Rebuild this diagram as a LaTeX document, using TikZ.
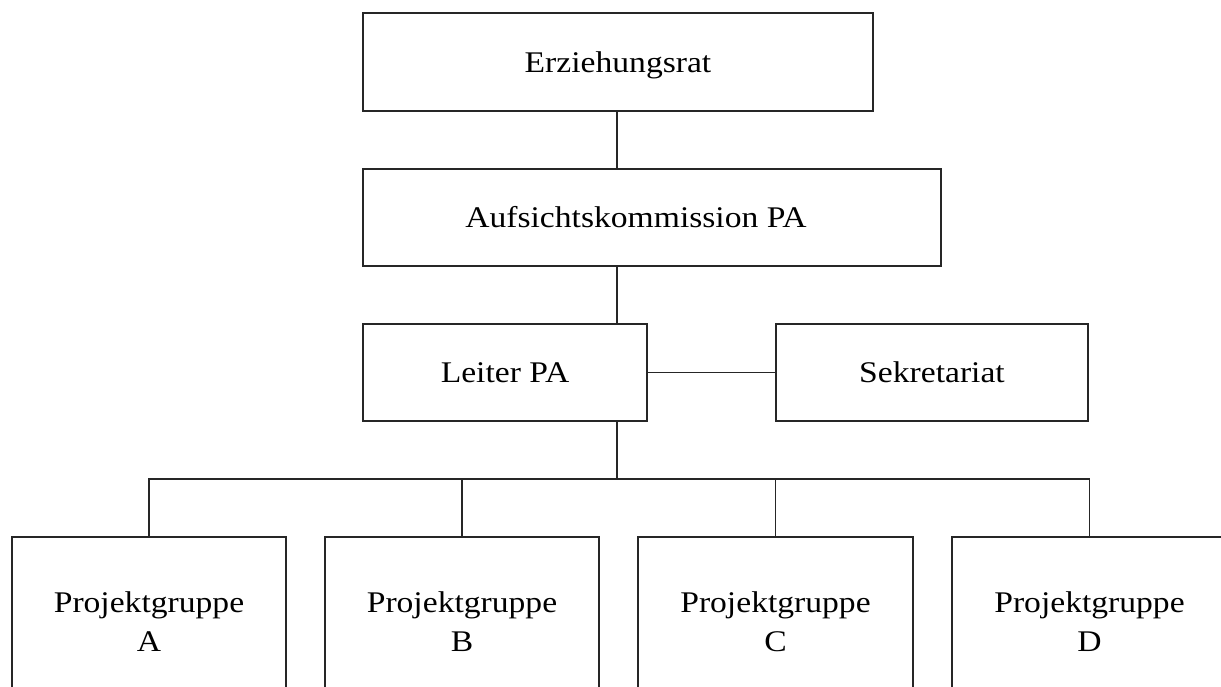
\documentclass[tikz,border=0pt]{standalone}
\usepackage{fontspec}
\setmainfont{Liberation Serif}[FakeStretch=1.12]
\begin{document}
\begin{tikzpicture}[x=1pt,y=-1pt,
  box/.style={draw=black!85,line width=2pt,inner sep=0pt,align=center,
    font=\fontsize{30}{39}\selectfont},
  onebox/.style={box,text height=20pt,text depth=0pt},
  conn/.style={draw=black!85,line width=1.8pt}]
\useasboundingbox[fill=white] (0,0) rectangle (1221,686);
\node[onebox,minimum width=510pt,minimum height=98pt] (erz) at (618,62) {Erziehungsrat};
\node[onebox,minimum width=578pt,minimum height=97pt] (auf) at (652,217.5) {\hspace*{-32pt}Aufsichtskommission PA};
\node[onebox,minimum width=284pt,minimum height=97pt] (lei) at (505,372.5) {Leiter PA};
\node[onebox,minimum width=312pt,minimum height=97pt] (sek) at (932,372.5) {Sekretariat};
\node[box,minimum width=274pt,minimum height=170pt] (pa) at (149,622) {Projektgruppe\\A};
\node[box,minimum width=274pt,minimum height=170pt] (pb) at (462,622) {Projektgruppe\\B};
\node[box,minimum width=275pt,minimum height=170pt] (pc) at (775.5,622) {Projektgruppe\\C};
\node[box,minimum width=275pt,minimum height=170pt] (pd) at (1089.5,622) {Projektgruppe\\D};
\coordinate (spine) at (617,479);
\draw[conn] (erz.south -| spine) -- (auf.north -| spine);
\draw[conn] (auf.south -| spine) -- (lei.north -| spine);
\draw[conn] (lei.south -| spine) -- (spine);
\draw[conn] (lei.east) -- (sek.west);
\draw[conn] (pa.north) -- (pa.north |- spine) -- (pd.north |- spine) -- (pd.north);
\draw[conn] (pb.north) -- (pb.north |- spine);
\draw[conn] (pc.north) -- (pc.north |- spine);
\end{tikzpicture}
\end{document}
